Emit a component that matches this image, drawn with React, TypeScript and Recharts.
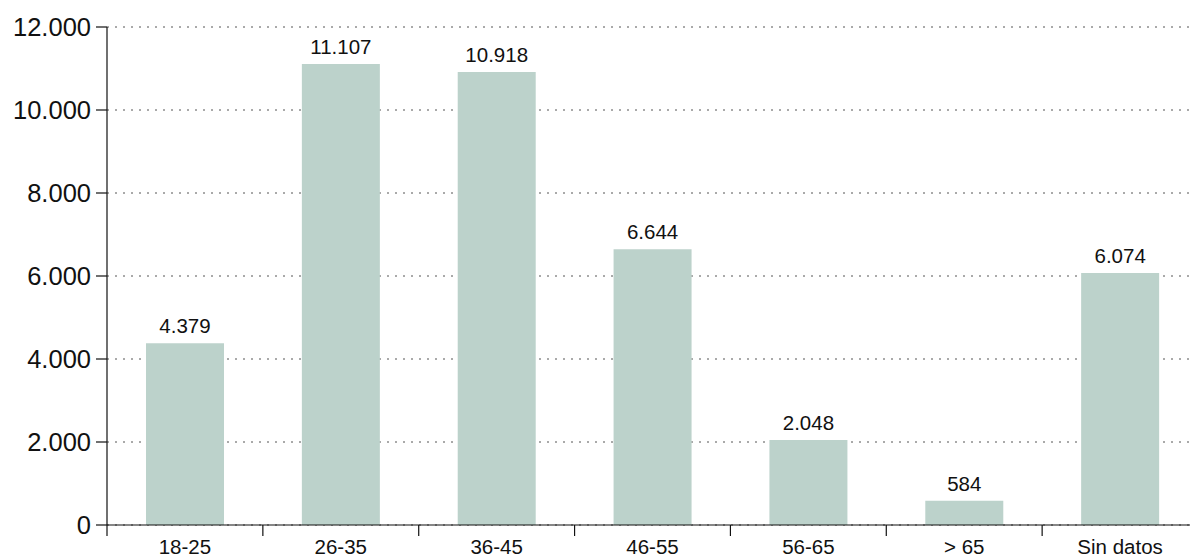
import React from "react";
import { BarChart, Bar, XAxis, YAxis, CartesianGrid, LabelList } from "recharts";

const categories = ["18-25", "26-35", "36-45", "46-55", "56-65", "> 65", "Sin datos"];
const values = [4379, 11107, 10918, 6644, 2048, 584, 6074];
const yTicks = [0, 2000, 4000, 6000, 8000, 10000, 12000];

const data = categories.map((c, i) => ({ name: c, value: values[i] }));

const fmt = (n: number) => String(n).replace(/\B(?=(\d{3})+(?!\d))/g, ".");

const FONT = '"Liberation Sans", Arial, Helvetica, sans-serif';
const CHART_W = 1200;
const CHART_H = 557;
const MARGIN = { top: 27, right: 2, left: 0, bottom: 0 };
const Y_W = 107;
const X_H = 32;
const X_TICK = 11;
const X_MARGIN = 3;

const plotW = CHART_W - MARGIN.left - MARGIN.right - Y_W;
const halfBand = plotW / categories.length / 2;

const XTick = (props: any) => {
  const { x, y, payload } = props;
  const axisY = y - X_TICK - X_MARGIN;
  return (
    <g>
      <line x1={x - halfBand} x2={x - halfBand} y1={axisY} y2={axisY + X_TICK} stroke="#111" strokeWidth={1.2} />
      <text x={x} y={y} dy="0.71em" textAnchor="middle" fontSize={20.5} fill="#111" fontFamily={FONT}>
        {payload.value}
      </text>
    </g>
  );
};

export default function App() {
  return (
    <div style={{ position: "absolute", left: 0, top: 0, width: 1190, height: 557, overflow: "hidden", background: "#fff" }}>
      <BarChart width={CHART_W} height={CHART_H} data={data} margin={MARGIN}>
        <CartesianGrid horizontal vertical={false} stroke="#555" strokeDasharray="2 6" />
        <XAxis
          dataKey="name"
          height={X_H}
          tick={<XTick />}
          tickLine={false}
          tickSize={X_TICK}
          tickMargin={X_MARGIN}
          axisLine={{ stroke: "#111", strokeWidth: 1.2 }}
          interval={0}
        />
        <YAxis
          width={Y_W}
          domain={[0, 12000]}
          ticks={yTicks}
          tickFormatter={fmt}
          tickSize={11}
          tickMargin={5}
          tick={{ fontSize: 25.5, fill: "#111", fontFamily: FONT }}
          tickLine={{ stroke: "#111", strokeWidth: 1.2 }}
          axisLine={{ stroke: "#111", strokeWidth: 1.2 }}
          interval={0}
        />
        <Bar dataKey="value" fill="#bcd2cb" barSize={78} isAnimationActive={false}>
          <LabelList
            dataKey="value"
            position="top"
            offset={10}
            formatter={(v: any) => fmt(Number(v))}
            style={{ fontSize: 20.5, fill: "#111", fontFamily: FONT }}
          />
        </Bar>
      </BarChart>
    </div>
  );
}
